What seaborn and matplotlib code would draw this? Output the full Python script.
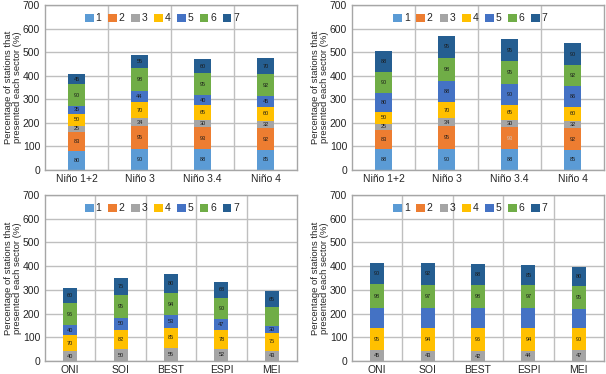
import numpy as np
import matplotlib
matplotlib.use("Agg")
import matplotlib.pyplot as plt
from matplotlib.patches import Patch
import seaborn as sns

# ── datos ───────────────────────────────────────────────────────────
NINO_CATS = ["Niño 1+2", "Niño 3", "Niño 3.4", "Niño 4"]
INDEX_CATS = ["ONI", "SOI", "BEST", "ESPI", "MEI"]
SECTORS = ["1", "2", "3", "4", "5", "6", "7"]

# una lista por sector (1..7), un valor por categoría
nino_left = [
    [80, 90, 88, 85],
    [83, 95, 93, 92],
    [25, 34, 30, 32],
    [50, 70, 65, 60],
    [35, 44, 40, 45],
    [90, 98, 95, 92],
    [45, 55, 60, 70],
]
nino_right = [
    [88, 90, 88, 85],
    [83, 95, 93, 92],
    [25, 34, 30, 32],
    [50, 70, 65, 60],
    [80, 88, 90, 86],
    [90, 98, 95, 92],
    [88, 95, 95, 90],
]
index_left = [
    [0, 0, 0, 0, 0],
    [0, 0, 0, 0, 0],
    [40, 50, 55, 52, 43],
    [70, 82, 85, 78, 75],
    [40, 50, 53, 47, 30],
    [96, 95, 94, 90, 80],
    [60, 75, 80, 68, 65],
]
index_right = [
    [0, 0, 0, 0, 0],
    [0, 0, 0, 0, 0],
    [45, 43, 42, 44, 47],
    [95, 94, 96, 94, 90],
    [85, 87, 85, 84, 84],
    [98, 97, 98, 97, 95],
    [90, 92, 88, 85, 80],
]

# segmentos sin etiqueta / etiqueta tenue (categoría, sector)
hidden_bl = {(4, 5)}
hidden_br = {(i, 4) for i in range(5)}
faint_tr = {(2, 1)}

COLORS = ["#5B9BD5", "#ED7D31", "#A5A5A5", "#FFC000",
          "#4472C4", "#70AD47", "#255E91"]
GRID = "#BFBFBF"
YLABEL = "Percentage of stations that\npresented each sector (%)"

sns.set_style("white")
plt.rcParams['font.family'] = ['Liberation Sans', 'DejaVu Sans']


def draw_panel(ax, cats, values, hidden=(), faint=(), anchor=0.465):
    bottom = np.zeros(len(cats))
    for k, vals in enumerate(values):
        vals = np.array(vals, dtype=float)
        sns.barplot(x=cats, y=vals, order=cats, bottom=bottom.copy(),
                    color=COLORS[k], saturation=1, width=0.28,
                    errorbar=None, linewidth=0, ax=ax)
        for i, v in enumerate(vals):
            if v > 0 and (i, k) not in hidden:
                col = "#C8C8C8" if (i, k) in faint else "#1a1a1a"
                ax.text(i, bottom[i] + v / 2, f"{v:g}", ha="center",
                        va="center", fontsize=4, color=col)
        bottom += vals

    n = len(cats)
    ax.set_xlim(-0.5, n - 0.5)
    ax.set_ylim(0, 700)
    ax.set_yticks(range(0, 701, 100))
    ax.set_axisbelow(True)
    ax.yaxis.grid(True, color=GRID, linewidth=1)
    for i in range(n - 1):
        ax.axvline(i + 0.5, color=GRID, linewidth=1, zorder=0)
    for s in ax.spines.values():
        s.set_visible(True)
        s.set_color("#A6A6A6")
        s.set_linewidth(1)
    ax.tick_params(axis="y", labelsize=7.5, length=2.5, color="#A6A6A6", pad=1)
    ax.tick_params(axis="x", labelsize=7.5, length=0, pad=3)
    ax.set_xlabel("")
    ax.set_ylabel(YLABEL, fontsize=6.8, linespacing=1.0)
    ax.yaxis.set_label_coords(-0.092, 0.5)

    handles = [Patch(facecolor=c, edgecolor="none") for c in COLORS]
    ax.legend(handles, SECTORS, loc="upper center", bbox_to_anchor=(anchor, 1.0),
              ncol=7, frameon=False, fontsize=7.5, handlelength=0.8,
              handleheight=0.8, handletextpad=0.2, columnspacing=0.65,
              borderaxespad=0.4)


fig = plt.figure(figsize=(6.06, 3.74), dpi=100)
fig.patch.set_facecolor("white")

ax_tl = fig.add_axes([0.0743, 0.5455, 0.4158, 0.4412])
ax_tr = fig.add_axes([0.5809, 0.5455, 0.4158, 0.4412])
ax_bl = fig.add_axes([0.0743, 0.0348, 0.4158, 0.4439])
ax_br = fig.add_axes([0.5809, 0.0348, 0.4158, 0.4439])

draw_panel(ax_tl, NINO_CATS, nino_left)
draw_panel(ax_tr, NINO_CATS, nino_right, faint=faint_tr, anchor=0.47)
draw_panel(ax_bl, INDEX_CATS, index_left, hidden=hidden_bl)
draw_panel(ax_br, INDEX_CATS, index_right, hidden=hidden_br, anchor=0.47)

fig.savefig("out.png", dpi=100)
plt.close(fig)
